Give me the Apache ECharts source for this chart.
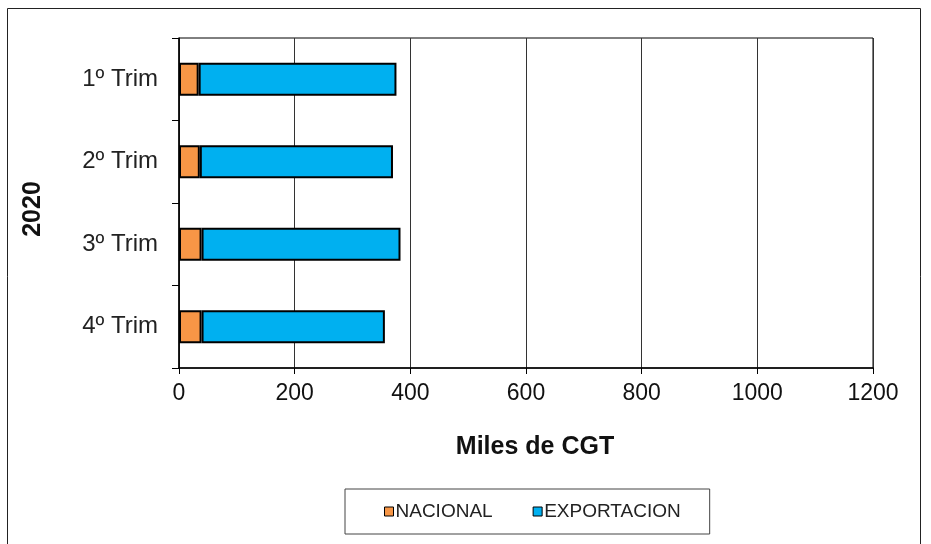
<!DOCTYPE html>
<html>
<head>
<meta charset="utf-8">
<script src="https://cdn.jsdelivr.net/npm/echarts@6/dist/echarts.min.js"></script>
<style>html,body{margin:0;padding:0;background:#fff}#c{width:931px;height:544px}</style>
</head>
<body>
<div id="c"></div>
<script>
const categories = ['1º Trim', '2º Trim', '3º Trim', '4º Trim'];
const nacional = [34, 36, 39, 39];
const exportacion = [342, 334, 344, 317];
const xTicks = [0, 200, 400, 600, 800, 1000, 1200];

const chart = echarts.init(document.getElementById('c'));
const font = 'Liberation Sans, Arial, sans-serif';
chart.setOption({
  animation: false,
  textStyle: { fontFamily: font },
  graphic: [{
    type: 'rect', shape: { x: 7.5, y: 8.5, width: 913, height: 545 },
    style: { fill: 'none', stroke: '#222', lineWidth: 1 }, silent: true
  }],
  grid: { left: 179, right: 58, top: 38, bottom: 176, show: true, borderColor: '#000', borderWidth: 1 },
  legend: {
    left: 345, top: 489, orient: 'horizontal',
    borderColor: '#444', borderWidth: 1,
    padding: [13, 29, 13, 39], itemGap: 40,
    itemWidth: 9, itemHeight: 9, itemStyle: { borderColor: '#000', borderWidth: 1 },
    textStyle: { fontSize: 19, color: '#222', fontFamily: font, padding: [0, 0, 0, -3] },
    data: [{ name: 'NACIONAL', icon: 'rect' }, { name: 'EXPORTACION', icon: 'rect' }]
  },
  xAxis: {
    type: 'value', min: 0, max: 1200, interval: 200,
    name: 'Miles de CGT', nameLocation: 'middle', nameGap: 67,
    nameTextStyle: { fontSize: 25, fontWeight: 'bold', color: '#111', fontFamily: font, padding: [0, 0, 0, 18] },
    axisLine: { show: true, lineStyle: { color: '#000', width: 1.5 } },
    axisTick: { show: true, length: 6, lineStyle: { color: '#000' } },
    axisLabel: { fontSize: 23, color: '#111', margin: 14, formatter: v => xTicks.includes(v) ? String(v) : '' },
    splitLine: { show: true, lineStyle: { color: '#333', width: 1 } }
  },
  yAxis: {
    type: 'category', data: categories, inverse: true,
    name: '2020', nameLocation: 'middle', nameGap: 133, nameRotate: 90,
    nameTextStyle: { fontSize: 25, fontWeight: 'bold', color: '#111', fontFamily: font, padding: [0, 12, 0, 0] },
    axisLine: { show: true, lineStyle: { color: '#000', width: 1.5 } },
    axisTick: { show: true, length: 7, lineStyle: { color: '#000' } },
    axisLabel: { fontSize: 24, color: '#222', margin: 21 }
  },
  series: [
    { name: 'NACIONAL', type: 'bar', stack: 'a', data: nacional, barWidth: '40%',
      itemStyle: { color: '#F79646', borderColor: '#000', borderWidth: 2 } },
    { name: 'EXPORTACION', type: 'bar', stack: 'a', data: exportacion, barWidth: '40%',
      itemStyle: { color: '#00B0F0', borderColor: '#000', borderWidth: 2 } }
  ]
});
</script>
</body>
</html>
